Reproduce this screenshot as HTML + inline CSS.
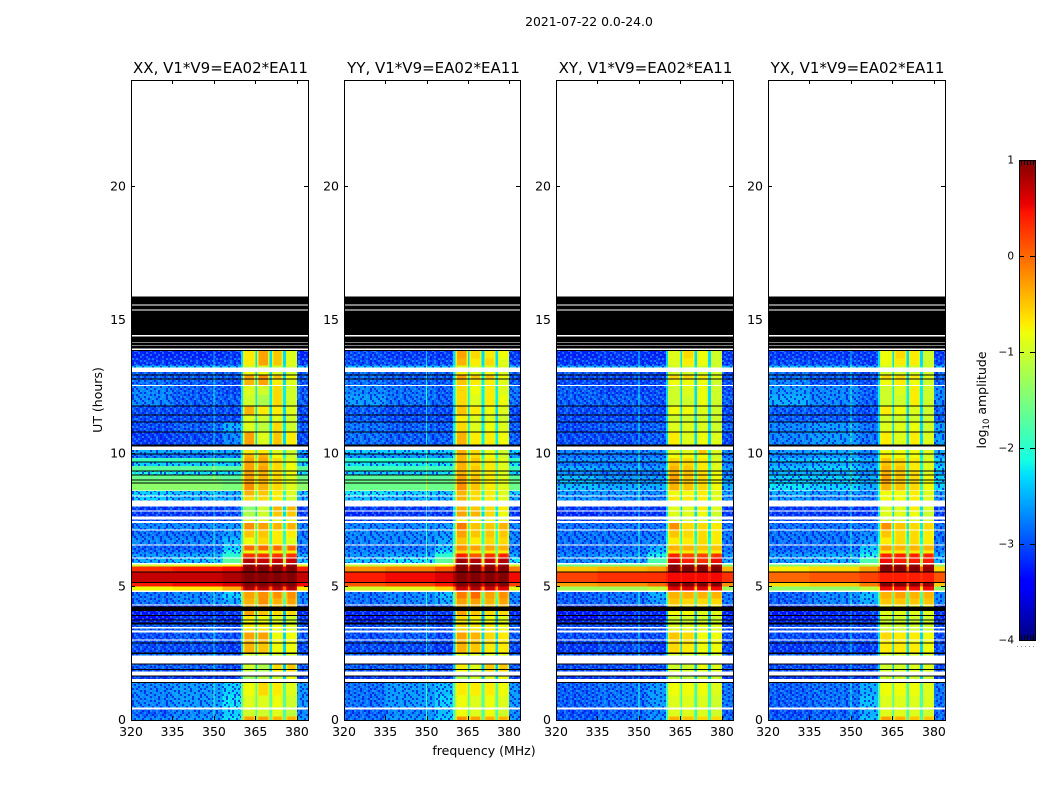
<!DOCTYPE html>
<html lang="en">
<head>
<meta charset="utf-8">
<title>2021-07-22 amplitude waterfall</title>
<style>
html,body{margin:0;padding:0;background:#fff}
#figure{display:block;width:1050px;height:800px;font-family:"DejaVu Sans","Liberation Sans",sans-serif;fill:#000}
</style>
</head>
<body>
<svg id="figure" xmlns="http://www.w3.org/2000/svg" width="1050" height="800" viewBox="0 0 1050 800">
  <defs>
    <pattern id="speckle" patternUnits="userSpaceOnUse" width="34" height="34"></pattern>
    <linearGradient id="jet-gradient" x1="0" y1="1" x2="0" y2="0"></linearGradient>
  </defs>
  <text x="589" y="26" text-anchor="middle" font-size="12.4">2021-07-22 0.0-24.0</text>
  <g id="panels"></g>
  <text x="484" y="755" text-anchor="middle" font-size="12.5">frequency (MHz)</text>
  <text transform="translate(102,400) rotate(-90)" text-anchor="middle" font-size="12.5">UT (hours)</text>
  <g id="colorbar"></g>
  <text transform="translate(986,400) rotate(-90)" text-anchor="middle" font-size="12.5">log<tspan font-size="8.5" dy="3">10</tspan><tspan dy="-3"> amplitude</tspan></text>
</svg>
<script>
// ---------- Chart data (frequency in MHz, time in UT hours, amplitude in log10) ----------
const panelTitles = ['XX, V1*V9=EA02*EA11', 'YY, V1*V9=EA02*EA11', 'XY, V1*V9=EA02*EA11', 'YX, V1*V9=EA02*EA11'];
const xTicks = [320, 335, 350, 365, 380];
const yTicks = [0, 5, 10, 15, 20];
const colorTicks = [1, 0, -1, -2, -3, -4];

// Frequency channel groups: low edge, high edge, and the value column each reads from
// (8 = band shoulder, 9 = interference line at 350 MHz).
const channelLow  = [320, 335, 353, 359.7, 360.5, 361, 364.5, 365, 365.6, 366.1, 369.5, 370, 371, 371.5, 374.5, 375, 376, 376.5, 379.5, 380, 349.8];
const channelHigh = [335, 353, 359.7, 360.5, 361, 364.5, 365, 365.6, 366.1, 369.5, 370, 371, 371.5, 374.5, 375, 376, 376.5, 379.5, 380, 384, 350.2];
const channelColumn = [0, 1, 2, 3, 8, 4, 8, 3, 8, 5, 8, 3, 8, 6, 8, 3, 8, 7, 8, 1, 9];
const channelBand = [0, 0, 0, 0, 4, 4, 4, 0, 5, 5, 5, 0, 6, 6, 6, 0, 7, 7, 7, 0, 0];
const interferenceExcess = 0.7;

// Integrations flagged to zero (drawn black).
const flaggedStart = [15.59,15.40,14.43,14.16,14.05,13.94,13.83,12.91,12.78,11.76,11.43,11.16,10.79,10.26,9.96,9.66,9.33,9.17,8.98,8.87,5.54,5.14,4.08,3.90,3.74,3.58,2.87,2.48,2.08,1.88,1.63,1.40];
const flaggedEnd   = [15.89,15.55,15.35,14.39,14.13,14.02,13.88,12.96,12.81,11.80,11.46,11.20,10.82,10.34,10.00,9.70,9.36,9.21,9.02,8.91,5.57,5.18,4.26,3.94,3.77,3.65,2.91,2.54,2.11,1.92,1.66,1.43];

// Time blocks holding data; anything not covered stays white (no data).
const rowEnd   = [13.83,13.56,13.30,13.05,12.91,12.78,12.53,12.18,11.76,11.43,11.16,10.79,10.13,9.96,9.82,9.66,9.52,9.33,9.17,9.02,8.87,8.58,8.39,8.01,7.82,7.51,7.38,7.11,6.85,6.55,6.35,6.25,6.05,5.83,5.76,5.54,5.14,5.01,4.80,4.56,4.30,4.08,3.90,3.75,3.58,3.44,3.29,2.98,2.86,2.48,2.08,1.88,1.63,1.40,0.92,0.39,0.13];
const rowStart = [13.56,13.30,13.21,12.96,12.81,12.57,12.18,11.80,11.46,11.20,10.82,10.34,10.00,9.82,9.70,9.52,9.36,9.21,9.02,8.91,8.61,8.42,8.24,7.86,7.64,7.46,7.14,6.85,6.58,6.35,6.25,6.09,5.88,5.76,5.54,5.14,5.01,4.86,4.56,4.33,4.26,3.94,3.77,3.65,3.48,3.36,3.01,2.91,2.54,2.42,1.92,1.82,1.53,0.92,0.46,0.13,0.00];

// Amplitude at the yellow shoulders around each band, per time block (all polarisations).
const rowShoulder = [-0.9,-0.9,-1.0,-1.0,-0.8,-0.9,-1.0,-1.0,-0.9,-1.0,-1.0,-0.9,-0.9,-0.8,-0.7,-0.7,-0.7,-0.7,-0.7,-0.7,-0.7,-0.8,-0.9,-1.1,-1.0,-1.0,-0.7,-0.8,-0.9,-0.5,-0.9,0.1,0.5,0.8,0.9,0.9,0.9,0.5,-0.5,-0.6,-0.7,-0.8,-1.0,-1.0,-0.9,-0.9,-0.7,-0.8,-0.7,-1.0,-1.0,-1.0,-1.1,-0.9,-1.0,-1.0,-0.6];

// Amplitude per time block; columns: 320-335, 335-353, 353-359, edge/gaps, band A, band B, band C, band D.
const ampXX = [
[-3.2,-3.2,-3.1,-2.3,-0.7,-0.3,-0.5,-0.9],[-3.1,-3.1,-3.0,-2.3,-0.7,-0.3,-0.5,-0.9],[-2.4,-2.4,-2.4,-2.2,-1.0,-1.0,-1.0,-1.0],[-2.9,-2.9,-2.9,-2.3,-0.8,-0.8,-0.9,-1.0],
[-2.9,-2.9,-2.9,-2.3,-0.3,-0.2,-0.5,-0.8],[-2.8,-2.9,-3.0,-2.3,-0.4,-0.3,-0.7,-0.9],[-2.7,-2.9,-3.0,-2.2,-0.9,-1.0,-0.6,-1.0],[-2.7,-2.9,-2.9,-2.2,-1.0,-1.2,-0.6,-1.0],
[-3.0,-3.0,-3.0,-2.3,-0.4,-0.7,-0.7,-0.9],[-3.0,-3.0,-3.0,-2.3,-0.9,-1.0,-0.9,-1.0],[-3.0,-2.9,-2.5,-2.2,-0.9,-1.1,-0.6,-1.0],[-3.1,-3.0,-2.7,-2.3,-0.3,-0.9,-0.5,-0.7],
[-2.5,-2.5,-2.5,-2.0,-0.7,-0.7,-0.9,-1.0],[-2.8,-2.8,-2.7,-2.1,-0.4,-0.4,-0.8,-1.0],[-1.9,-1.9,-1.9,-1.6,-0.3,-0.3,-0.6,-0.9],[-2.3,-2.3,-2.3,-1.8,-0.3,-0.4,-0.6,-0.8],
[-1.7,-1.7,-1.7,-1.5,-0.3,-0.3,-0.6,-0.8],[-2.1,-2.2,-2.2,-1.8,-0.3,-0.4,-0.6,-0.8],[-1.6,-1.6,-1.7,-1.4,-0.3,-0.4,-0.6,-0.9],[-1.5,-1.5,-1.6,-1.4,-0.3,-0.4,-0.6,-0.9],
[-1.4,-1.4,-1.5,-1.4,-0.2,-0.4,-0.6,-0.9],[-2.3,-2.4,-2.5,-2.0,-0.4,-0.5,-0.7,-0.9],[-2.3,-2.5,-2.5,-2.0,-0.6,-0.6,-0.7,-1.0],[-3.1,-3.1,-3.0,-2.3,-1.4,-1.0,-0.4,-0.4],
[-3.1,-3.1,-3.0,-2.3,-1.2,-1.0,-0.5,-0.5],[-3.0,-3.0,-3.0,-2.3,-0.9,-0.9,-0.9,-0.9],[-2.7,-2.7,-2.6,-2.1,-0.2,-0.3,-0.4,-0.4],[-2.8,-2.8,-2.6,-2.0,-0.5,-0.5,-0.7,-0.7],
[-2.7,-2.7,-2.4,-1.9,-0.8,-0.6,-0.7,-0.9],[-2.9,-2.9,-2.3,-1.7,0.0,0.0,0.0,0.0],[-2.8,-2.8,-2.1,-1.5,-0.8,-0.8,-0.7,-0.7],[-2.6,-2.5,-2.0,-1.4,0.3,0.3,0.3,0.3],
[-2.5,-2.4,-1.7,-1.2,0.8,0.7,0.7,0.7],[-1.0,-0.9,-0.7,-0.5,0.9,0.9,0.9,0.9],[0.3,0.4,0.5,0.6,1.0,1.0,1.0,1.0],[0.7,0.7,0.8,0.9,1.0,1.0,1.0,1.0],
[0.4,0.5,0.6,0.8,1.0,1.0,1.0,1.0],[-0.8,-0.7,-0.4,0.0,0.8,0.8,0.8,0.8],[-2.8,-2.7,-2.3,-1.5,-0.3,-0.2,-0.2,-0.2],[-2.8,-2.7,-2.5,-1.8,-0.4,-0.2,-0.4,-0.3],
[-3.2,-3.2,-3.1,-2.4,-0.4,-0.4,-0.5,-0.5],[-3.3,-3.2,-3.1,-2.5,-0.3,-0.5,-0.6,-0.6],[-3.4,-3.1,-3.2,-2.5,-0.7,-0.8,-0.9,-1.0],[-3.2,-3.0,-3.1,-2.4,-0.8,-0.8,-0.9,-1.0],
[-2.9,-2.9,-3.0,-2.3,-0.7,-0.7,-0.8,-0.9],[-2.9,-2.9,-3.0,-2.3,-0.7,-0.7,-0.8,-0.9],[-3.0,-2.9,-3.0,-2.3,-0.3,-0.3,-0.8,-0.8],[-3.0,-2.9,-3.0,-2.3,-0.4,-0.4,-0.8,-0.8],
[-3.0,-3.0,-3.1,-2.3,-0.4,-0.5,-0.8,-0.8],[-2.8,-2.8,-2.9,-2.3,-1.0,-1.0,-1.0,-1.0],[-2.9,-2.9,-3.0,-2.4,-1.0,-1.2,-0.6,-0.5],[-3.0,-3.0,-3.0,-2.4,-1.1,-1.2,-0.7,-0.6],
[-3.1,-3.1,-3.1,-2.4,-1.3,-1.1,-1.0,-0.8],[-2.7,-2.6,-2.3,-1.7,-0.8,-0.6,-0.7,-0.9],[-2.7,-2.6,-2.2,-1.7,-0.9,-0.9,-0.8,-1.0],[-2.9,-2.7,-2.3,-1.8,-1.0,-1.0,-0.9,-1.1],
[-2.7,-2.6,-2.2,-1.7,-0.3,-0.3,-0.4,-0.4]];
const ampYY = [
[-3.0,-3.1,-3.1,-2.3,-0.3,-0.6,-0.7,-0.8],[-3.0,-3.0,-3.0,-2.3,-0.4,-0.7,-0.6,-0.9],[-2.4,-2.4,-2.4,-2.1,-0.9,-0.9,-0.9,-0.9],[-2.8,-2.9,-2.9,-2.2,-0.7,-0.9,-0.8,-0.9],
[-2.8,-2.9,-2.9,-2.2,-0.3,-0.5,-0.5,-0.8],[-2.8,-2.9,-2.9,-2.2,-0.5,-0.7,-0.7,-0.9],[-2.7,-2.8,-2.9,-2.2,-0.6,-0.8,-0.7,-0.9],[-2.6,-2.8,-2.9,-2.2,-0.6,-0.9,-0.7,-0.8],
[-2.9,-3.0,-3.0,-2.3,-0.5,-0.7,-0.8,-0.9],[-2.9,-3.0,-3.0,-2.3,-0.7,-0.9,-0.9,-1.0],[-2.8,-2.9,-2.9,-2.2,-0.6,-0.9,-0.8,-0.9],[-2.8,-2.9,-2.9,-2.2,-0.4,-0.7,-0.7,-0.8],
[-2.3,-2.3,-2.3,-2.0,-0.4,-0.6,-0.8,-1.0],[-2.6,-2.6,-2.6,-2.1,-0.4,-0.6,-0.8,-1.0],[-2.0,-2.0,-2.0,-1.7,-0.4,-0.5,-0.7,-0.9],[-2.2,-2.2,-2.2,-1.8,-0.4,-0.6,-0.7,-0.9],
[-1.9,-1.9,-1.9,-1.6,-0.4,-0.5,-0.7,-0.9],[-2.3,-2.3,-2.2,-1.8,-0.4,-0.6,-0.7,-0.9],[-1.7,-1.7,-1.7,-1.5,-0.3,-0.5,-0.7,-0.9],[-1.6,-1.6,-1.6,-1.5,-0.3,-0.5,-0.7,-0.9],
[-1.6,-1.6,-1.6,-1.5,-0.2,-0.5,-0.7,-0.9],[-2.2,-2.3,-2.4,-2.0,-0.4,-0.6,-0.7,-0.9],[-2.4,-2.5,-2.5,-2.0,-0.4,-0.6,-0.7,-0.9],[-3.1,-3.1,-3.0,-2.2,-0.4,-0.5,-0.6,-0.7],
[-3.2,-3.1,-3.1,-2.3,-0.3,-0.4,-0.6,-0.8],[-3.0,-3.0,-3.0,-2.3,-0.8,-0.8,-0.9,-0.9],[-2.7,-2.7,-2.6,-2.0,-0.1,-0.5,-0.5,-0.4],[-2.7,-2.7,-2.6,-2.0,-0.3,-0.5,-0.5,-0.5],
[-2.7,-2.7,-2.5,-1.9,-0.5,-0.7,-0.6,-0.6],[-2.8,-2.8,-2.4,-1.7,-0.2,-0.3,-0.3,-0.4],[-2.7,-2.7,-2.2,-1.5,-0.6,-0.7,-0.7,-0.7],[-2.6,-2.5,-2.0,-1.3,0.4,0.1,0.3,0.4],
[-2.4,-2.2,-1.7,-1.1,0.9,0.8,0.7,0.8],[-1.1,-1.0,-0.8,-0.5,1.0,1.0,0.9,0.9],[-0.2,-0.1,0.1,0.3,1.0,1.0,1.0,1.0],[0.4,0.5,0.6,0.8,1.0,1.0,1.0,1.0],
[0.1,0.2,0.4,0.6,1.0,1.0,1.0,1.0],[-1.0,-0.9,-0.6,-0.2,0.7,0.8,0.7,0.6],[-2.8,-2.7,-2.4,-1.6,-0.1,0.0,-0.3,-0.2],[-2.8,-2.7,-2.5,-1.8,-0.3,-0.3,-0.4,-0.3],
[-3.1,-3.1,-3.0,-2.4,-0.4,-0.4,-0.5,-0.5],[-3.2,-3.2,-3.1,-2.5,-0.3,-0.5,-0.6,-0.6],[-3.3,-3.1,-3.2,-2.5,-0.6,-0.7,-0.8,-0.9],[-3.2,-3.0,-3.1,-2.4,-0.7,-0.8,-0.8,-0.9],
[-3.0,-2.9,-3.0,-2.3,-0.6,-0.7,-0.7,-0.8],[-2.9,-2.9,-3.0,-2.3,-0.6,-0.7,-0.7,-0.8],[-3.0,-2.9,-3.0,-2.3,-0.3,-0.4,-0.6,-0.7],[-3.0,-2.9,-3.0,-2.3,-0.4,-0.5,-0.6,-0.7],
[-3.0,-3.0,-3.1,-2.3,-0.4,-0.5,-0.7,-0.7],[-2.9,-2.9,-2.9,-2.3,-0.9,-0.9,-0.9,-0.9],[-2.9,-2.9,-3.0,-2.4,-0.7,-0.9,-0.5,-0.5],[-3.0,-3.0,-3.0,-2.4,-0.8,-1.0,-0.6,-0.6],
[-3.1,-3.1,-3.1,-2.4,-1.2,-1.0,-0.9,-0.8],[-2.8,-2.6,-2.4,-1.7,-0.7,-0.7,-0.7,-0.8],[-2.8,-2.6,-2.3,-1.7,-0.8,-0.9,-0.8,-0.9],[-2.9,-2.7,-2.4,-1.8,-0.8,-0.9,-0.8,-1.0],
[-2.8,-2.6,-2.3,-1.7,-0.2,-0.3,-0.4,-0.4]];
const ampXY = [
[-3.2,-3.1,-3.2,-2.3,-0.9,-0.6,-0.8,-1.0],[-3.1,-3.1,-3.1,-2.3,-0.9,-0.7,-0.8,-1.0],[-2.5,-2.5,-2.5,-2.2,-1.0,-1.0,-1.0,-1.0],[-2.9,-3.0,-3.0,-2.3,-1.0,-1.0,-1.0,-1.0],
[-3.0,-3.0,-3.0,-2.3,-0.6,-0.6,-0.7,-0.9],[-3.0,-3.0,-3.0,-2.3,-0.8,-0.8,-0.8,-1.0],[-2.9,-3.0,-3.0,-2.3,-1.0,-0.9,-0.8,-1.0],[-2.9,-2.9,-3.0,-2.3,-1.0,-1.0,-0.8,-1.0],
[-3.0,-3.0,-3.0,-2.3,-0.8,-0.8,-0.9,-1.0],[-3.0,-3.0,-3.0,-2.3,-1.0,-1.0,-1.0,-1.0],[-3.0,-2.9,-2.9,-2.3,-0.9,-0.9,-0.9,-1.0],[-3.0,-3.0,-2.9,-2.3,-0.7,-0.9,-0.8,-0.9],
[-2.7,-2.7,-2.7,-2.1,-0.9,-0.9,-0.5,-0.9],[-2.8,-2.8,-2.8,-2.2,-0.8,-0.8,-0.8,-1.0],[-2.6,-2.6,-2.6,-2.1,-0.6,-0.6,-0.7,-0.9],[-2.8,-2.8,-2.8,-2.2,-0.5,-0.6,-0.7,-0.9],
[-2.5,-2.6,-2.6,-2.1,-0.4,-0.5,-0.7,-0.9],[-2.7,-2.8,-2.8,-2.2,-0.4,-0.5,-0.6,-0.8],[-2.4,-2.6,-2.6,-2.1,-0.3,-0.5,-0.6,-0.8],[-2.4,-2.6,-2.6,-2.1,-0.3,-0.5,-0.6,-0.8],
[-2.4,-2.5,-2.5,-2.0,-0.4,-0.5,-0.6,-0.8],[-2.6,-2.6,-2.7,-2.1,-0.8,-0.8,-0.7,-0.9],[-2.6,-2.7,-2.8,-2.2,-0.7,-0.7,-0.7,-0.9],[-3.1,-3.1,-3.1,-2.3,-0.9,-0.9,-0.7,-0.9],
[-3.2,-3.1,-3.1,-2.3,-0.9,-0.9,-0.8,-1.0],[-3.0,-3.0,-3.0,-2.3,-1.0,-1.0,-1.0,-1.0],[-2.8,-2.8,-2.8,-2.2,-0.2,-0.6,-0.6,-0.7],[-2.8,-2.8,-2.8,-2.2,-0.5,-0.6,-0.6,-0.7],
[-2.8,-2.8,-2.7,-2.1,-0.7,-0.7,-0.6,-0.7],[-2.9,-2.8,-2.5,-1.8,-0.4,-0.4,-0.5,-0.5],[-2.8,-2.8,-2.4,-1.7,-0.7,-0.7,-0.7,-0.7],[-2.7,-2.6,-2.1,-1.5,0.4,0.2,0.2,0.3],
[-2.7,-2.6,-1.8,-1.3,0.6,0.4,0.3,0.5],[-1.6,-1.5,-1.4,-1.0,1.0,0.9,0.9,0.9],[-0.5,-0.4,-0.3,0.0,1.0,1.0,1.0,1.0],[0.2,0.3,0.3,0.4,0.5,0.5,0.5,0.5],
[-0.3,-0.2,0.0,0.2,1.0,1.0,1.0,1.0],[-1.3,-1.3,-1.1,-0.6,0.6,0.6,0.6,0.5],[-2.9,-2.8,-2.5,-1.7,-0.4,-0.4,-0.4,-0.4],[-2.9,-2.8,-2.6,-1.9,-0.5,-0.6,-0.6,-0.6],
[-3.2,-3.2,-3.2,-2.4,-0.7,-0.7,-0.7,-0.7],[-3.3,-3.2,-3.2,-2.5,-0.8,-0.8,-0.9,-0.9],[-3.4,-3.2,-3.2,-2.5,-1.0,-1.0,-1.0,-1.0],[-3.2,-3.1,-3.1,-2.4,-1.0,-1.0,-1.0,-1.0],
[-3.0,-3.0,-3.0,-2.3,-0.9,-0.9,-0.9,-0.9],[-3.0,-3.0,-3.0,-2.3,-0.9,-0.9,-0.9,-0.9],[-3.0,-3.0,-3.0,-2.3,-0.5,-0.6,-0.8,-0.8],[-3.0,-3.0,-3.0,-2.3,-0.6,-0.6,-0.8,-0.8],
[-3.1,-3.0,-3.1,-2.3,-0.6,-0.7,-0.8,-0.8],[-2.9,-2.9,-2.9,-2.3,-1.0,-1.0,-1.0,-1.0],[-3.0,-3.0,-3.0,-2.4,-1.0,-1.0,-0.8,-0.9],[-3.0,-3.0,-3.0,-2.4,-1.0,-1.0,-0.9,-0.9],
[-3.1,-3.1,-3.1,-2.4,-1.1,-1.1,-1.0,-1.0],[-2.9,-2.8,-2.6,-1.9,-0.8,-0.8,-0.8,-0.9],[-2.9,-2.8,-2.6,-1.9,-0.9,-0.9,-0.9,-1.0],[-3.0,-2.9,-2.7,-2.0,-0.9,-0.9,-0.9,-1.0],
[-2.9,-2.8,-2.6,-1.9,-0.4,-0.5,-0.6,-0.6]];
const ampYX = [
[-3.1,-3.1,-3.1,-2.3,-0.8,-0.6,-0.7,-1.0],[-3.0,-3.0,-3.1,-2.3,-0.8,-0.7,-0.7,-1.0],[-2.4,-2.4,-2.5,-2.2,-1.0,-1.0,-1.0,-1.0],[-2.8,-2.9,-3.0,-2.3,-1.0,-1.0,-1.0,-1.0],
[-2.8,-2.9,-3.0,-2.3,-0.6,-0.6,-0.7,-0.9],[-2.7,-2.9,-3.0,-2.3,-0.8,-0.7,-0.8,-1.0],[-2.6,-2.7,-2.9,-2.2,-1.0,-0.9,-0.7,-1.0],[-2.5,-2.7,-2.9,-2.2,-1.0,-1.0,-0.7,-1.0],
[-2.9,-2.9,-3.0,-2.3,-0.7,-0.8,-0.9,-1.0],[-2.9,-2.9,-3.0,-2.3,-1.0,-1.0,-1.0,-1.0],[-2.7,-2.6,-2.8,-2.3,-0.9,-0.9,-0.8,-1.0],[-2.7,-2.6,-2.8,-2.3,-0.7,-0.9,-0.7,-0.9],
[-2.6,-2.5,-2.7,-2.1,-0.8,-0.8,-0.8,-0.9],[-2.7,-2.6,-2.8,-2.2,-0.7,-0.8,-0.8,-1.0],[-2.4,-2.3,-2.5,-2.1,-0.5,-0.6,-0.7,-0.9],[-2.6,-2.5,-2.7,-2.1,-0.5,-0.6,-0.7,-0.9],
[-2.4,-2.3,-2.5,-2.1,-0.4,-0.5,-0.7,-0.9],[-2.5,-2.5,-2.7,-2.2,-0.4,-0.5,-0.6,-0.9],[-2.3,-2.3,-2.5,-2.1,-0.3,-0.5,-0.6,-0.8],[-2.3,-2.3,-2.5,-2.1,-0.3,-0.5,-0.6,-0.8],
[-2.2,-2.3,-2.5,-2.0,-0.4,-0.5,-0.6,-0.8],[-2.5,-2.6,-2.7,-2.1,-0.8,-0.8,-0.7,-0.9],[-2.6,-2.7,-2.8,-2.2,-0.8,-0.8,-0.7,-0.9],[-3.1,-3.1,-3.1,-2.3,-0.9,-0.9,-0.7,-0.9],
[-3.1,-3.1,-3.1,-2.3,-0.9,-0.9,-0.8,-1.0],[-3.0,-3.0,-3.0,-2.3,-1.0,-1.0,-1.0,-1.0],[-2.8,-2.8,-2.8,-2.2,-0.2,-0.5,-0.6,-0.6],[-2.8,-2.8,-2.7,-2.2,-0.5,-0.6,-0.6,-0.7],
[-2.8,-2.8,-2.6,-2.1,-0.7,-0.6,-0.6,-0.7],[-2.9,-2.8,-2.4,-1.8,-0.3,-0.4,-0.4,-0.4],[-2.8,-2.7,-2.3,-1.7,-0.7,-0.7,-0.7,-0.7],[-2.6,-2.5,-2.1,-1.5,0.4,0.4,0.4,0.4],
[-2.6,-2.5,-1.8,-1.2,0.5,0.4,0.4,0.4],[-1.5,-1.4,-1.2,-0.9,1.0,0.9,0.9,0.8],[-0.7,-0.6,-0.3,0.0,1.0,1.0,1.0,0.9],[0.0,0.1,0.2,0.3,0.4,0.4,0.4,0.4],
[-0.6,-0.5,-0.1,0.1,1.0,1.0,1.0,0.9],[-1.4,-1.4,-1.1,-0.7,0.5,0.5,0.5,0.5],[-2.9,-2.7,-2.4,-1.7,-0.4,-0.3,-0.4,-0.4],[-2.9,-2.7,-2.5,-1.9,-0.5,-0.5,-0.5,-0.5],
[-3.2,-3.2,-3.1,-2.4,-0.8,-0.8,-0.8,-0.8],[-3.3,-3.2,-3.1,-2.5,-0.9,-0.9,-0.9,-0.9],[-3.3,-3.2,-3.2,-2.5,-1.0,-1.0,-1.0,-1.0],[-3.2,-3.1,-3.1,-2.4,-1.0,-1.0,-1.0,-1.0],
[-3.0,-3.0,-3.0,-2.3,-1.0,-1.0,-1.0,-1.0],[-3.0,-3.0,-3.0,-2.3,-1.0,-1.0,-1.0,-1.0],[-3.0,-3.0,-3.0,-2.3,-0.6,-0.7,-0.7,-0.8],[-3.0,-3.0,-3.0,-2.3,-0.7,-0.7,-0.8,-0.8],
[-3.1,-3.0,-3.1,-2.3,-0.7,-0.7,-0.7,-0.8],[-2.9,-2.9,-2.9,-2.3,-1.0,-1.0,-1.0,-1.0],[-3.0,-3.0,-3.0,-2.4,-1.0,-1.0,-0.9,-0.9],[-3.0,-3.0,-3.0,-2.4,-1.0,-1.0,-0.9,-0.9],
[-3.1,-3.1,-3.1,-2.4,-1.0,-1.0,-1.0,-1.0],[-2.9,-2.8,-2.5,-1.8,-0.8,-0.8,-0.8,-0.9],[-2.9,-2.8,-2.4,-1.8,-0.9,-0.9,-0.9,-0.9],[-3.0,-2.9,-2.5,-1.9,-0.9,-0.9,-0.9,-1.0],
[-2.9,-2.8,-2.4,-1.8,-0.3,-0.4,-0.5,-0.5]];
const panelAmps = [ampXX, ampYY, ampXY, ampYX];

// Fine-grain texture for the noise floor: d = low pixel, c = high pixel, . = block mean.
const speckleTile = [
'd.c..dc.d..c.d.c.','.dc.d...cd.c..d.c','c..d.c.d..c.dc..d','.d.cd..c.d.c..dc.',
'd.c..c.d.cd..c.d.','c.d.d..c..d.c.d.c','.c..dc.d.c..dc..d','d..c.d.c.d.c...dc',
'.dc..c.d..cd.c.d.','c.d.d.c.c..d..dc.','d.c.c..d.dc..c.d.','.d..dc.c...d.c.dc',
'c.dc..d.c.d.c..d.','.c.d.c..dc..d.c.d','d..cd.c.d.c.d..c.','.c.d..dc..c.d.d.c',
'c.d.c.d..dc.c.d..'];

// ---------- Layout (pixels) ----------
const panelLeft = [131, 344, 556, 768];
const panelWidth = [177, 176, 177, 177];
const PANEL_TOP = 80, PANEL_BOTTOM = 720;
const XMIN = 320, XMAX = 384, YMIN = 0, YMAX = 24, CMIN = -4, CMAX = 1;
const CB_LEFT = 1019, CB_RIGHT = 1035, CB_TOP = 160, CB_BOTTOM = 640;

const NS = 'http://www.w3.org/2000/svg';
function mk(tag, attrs, parent) {
  const el = document.createElementNS(NS, tag);
  for (const k in attrs) el.setAttribute(k, attrs[k]);
  parent.appendChild(el);
  return el;
}
function xScale(p, f) { return panelLeft[p] + (f - XMIN) / (XMAX - XMIN) * panelWidth[p]; }
function yScale(h) { return PANEL_BOTTOM - (h - YMIN) / (YMAX - YMIN) * (PANEL_BOTTOM - PANEL_TOP); }
function cScale(v) { return CB_BOTTOM - (v - CMIN) / (CMAX - CMIN) * (CB_BOTTOM - CB_TOP); }

const jetR = [[0, 0], [0.35, 0], [0.66, 1], [0.89, 1], [1, 0.5]];
const jetG = [[0, 0], [0.125, 0], [0.375, 1], [0.64, 1], [0.91, 0], [1, 0]];
const jetB = [[0, 0.5], [0.11, 1], [0.34, 1], [0.65, 0], [1, 0]];
function lerpStops(s, t) {
  for (let i = 1; i < s.length; i++) {
    if (t <= s[i][0]) return s[i - 1][1] + (s[i][1] - s[i - 1][1]) * (t - s[i - 1][0]) / (s[i][0] - s[i - 1][0]);
  }
  return s[s.length - 1][1];
}
function jet(v) {
  const t = Math.max(0, Math.min(1, (v - CMIN) / (CMAX - CMIN)));
  return 'rgb(' + Math.round(lerpStops(jetR, t) * 255) + ',' + Math.round(lerpStops(jetG, t) * 255) + ',' + Math.round(lerpStops(jetB, t) * 255) + ')';
}

// Speckle pattern
const speckleEl = document.getElementById('speckle');
speckleTile.forEach(function (line, r) {
  line.split('').forEach(function (ch, c) {
    if (ch === '.') return;
    const px = mk('rect', { x: c * 2, y: r * 2, width: 2, height: 2, fill: ch === 'd' ? '#0014e0' : '#30a8ff', 'fill-opacity': ch === 'd' ? 0.75 : 0.55 }, speckleEl);
    
    
  });
});

// Panels
const panelsRoot = document.getElementById('panels');
panelTitles.forEach(function (title, p) {
  const left = panelLeft[p];
  const width = panelWidth[p];
  const right = left + width;
  const amps = panelAmps[p];
  const g = mk('g', {}, panelsRoot);
  
  

  const bg = mk('rect', { x: left, y: PANEL_TOP, width: width, height: PANEL_BOTTOM - PANEL_TOP, fill: '#fff' }, g);
  
  

  const heat = mk('g', { 'shape-rendering': 'crispEdges' }, g);
  
  

  rowStart.forEach(function (start, r) {
    const yTop = yScale(rowEnd[r]);
    const yBot = yScale(start);
    channelLow.forEach(function (low, c) {
      const col = channelColumn[c];
      let v;
      if (col === 8) v = Math.min(rowShoulder[r], amps[r][channelBand[c]]);
      else if (col === 9) v = amps[r][1] < -1.5 ? amps[r][1] + interferenceExcess : amps[r][1];
      else v = amps[r][col];
      const xa = xScale(p, low);
      const xb = xScale(p, channelHigh[c]);
      const cell = mk('rect', { x: xa, y: yTop, width: xb - xa, height: yBot - yTop, fill: jet(v) }, heat);
      
      
      if (v < -2.0 && col < 3) {
        const noise = mk('rect', { x: xa, y: yTop, width: xb - xa, height: yBot - yTop, fill: 'url(#speckle)' }, heat);
        
        
      }
    });
  });

  flaggedStart.forEach(function (start, r) {
    const yTop = yScale(flaggedEnd[r]);
    const yBot = yScale(start);
    const band = mk('rect', { x: left, y: yTop, width: width, height: Math.max(1, yBot - yTop), fill: '#000' }, heat);
    
    
  });

  const frame = mk('rect', { x: left + 0.5, y: PANEL_TOP + 0.5, width: width, height: PANEL_BOTTOM - PANEL_TOP, fill: 'none', stroke: '#000', 'stroke-width': 1 }, g);
  
  

  xTicks.forEach(function (t) {
    const x = Math.round(xScale(p, t)) + 0.5;
    const tb = mk('line', { x1: x, x2: x, y1: PANEL_BOTTOM, y2: PANEL_BOTTOM - 4, stroke: '#000' }, g);
    
    
    const tt = mk('line', { x1: x, x2: x, y1: PANEL_TOP, y2: PANEL_TOP + 4, stroke: '#000' }, g);
    
    
    const lab = mk('text', { x: xScale(p, t), y: 736, 'text-anchor': 'middle', 'font-size': 12.5 }, g);
    lab.textContent = String(t);
    
    
  });

  yTicks.forEach(function (t) {
    const y = Math.floor(yScale(t)) + 0.5;
    const tl = mk('line', { x1: left, x2: left + 4, y1: y, y2: y, stroke: '#000' }, g);
    
    
    const tr = mk('line', { x1: right, x2: right - 4, y1: y, y2: y, stroke: '#000' }, g);
    
    
    const lab = mk('text', { x: left - 5, y: yScale(t) + 4, 'text-anchor': 'end', 'font-size': 12.5 }, g);
    lab.textContent = String(t);
    
    
  });

  const ttl = mk('text', { x: left + 177 / 2 + 1, y: 73, 'text-anchor': 'middle', 'font-size': 15 }, g);
  ttl.textContent = title;
  
  
});

// Colorbar
const grad = document.getElementById('jet-gradient');
const gradientLevels = [-4, -3.45, -3.375, -2.75, -2.3, -2.125, -1.8, -1.25, -0.8, -0.7, -0.45, -0.05, 0.45, 0.55, 1];
gradientLevels.forEach(function (v) {
  const s = mk('stop', { offset: (v - CMIN) / (CMAX - CMIN), 'stop-color': jet(v) }, grad);
  
  
});
const cb = document.getElementById('colorbar');
const ramp = mk('rect', { x: CB_LEFT, y: CB_TOP, width: CB_RIGHT - CB_LEFT, height: CB_BOTTOM - CB_TOP, fill: 'url(#jet-gradient)' }, cb);


const cbFrame = mk('rect', { x: CB_LEFT + 0.5, y: CB_TOP + 0.5, width: CB_RIGHT - CB_LEFT, height: CB_BOTTOM - CB_TOP, fill: 'none', stroke: '#000' }, cb);


colorTicks.forEach(function (t) {
  const y = Math.round(cScale(t)) + 0.5;
  if (t > CMIN && t < CMAX) {
    const a = mk('line', { x1: CB_LEFT, x2: CB_LEFT + 5, y1: y, y2: y, stroke: '#000' }, cb);
    
    
    const b = mk('line', { x1: CB_RIGHT, x2: CB_RIGHT - 5, y1: y, y2: y, stroke: '#000' }, cb);
    
    
  }
  const lab = mk('text', { x: 1014, y: cScale(t) + 3.5, 'text-anchor': 'end', 'font-size': 10.5 }, cb);
  lab.textContent = t < 0 ? '\u2212' + Math.abs(t) : String(t);
  
  
});
[1022, 1025, 1028, 1031, 1034].forEach(function (x) {
  const top = mk('line', { x1: x - 0.5, x2: x - 0.5, y1: CB_TOP, y2: CB_TOP + 5, stroke: '#000' }, cb);
  
  
  const bot = mk('line', { x1: x - 0.5, x2: x - 0.5, y1: CB_BOTTOM, y2: CB_BOTTOM - 5, stroke: '#000' }, cb);
  
  
});
const dots = mk('line', { x1: 1017, x2: 1036, y1: 646.5, y2: 646.5, stroke: '#888', 'stroke-dasharray': '1 3' }, cb);


</script>
</body>
</html>
